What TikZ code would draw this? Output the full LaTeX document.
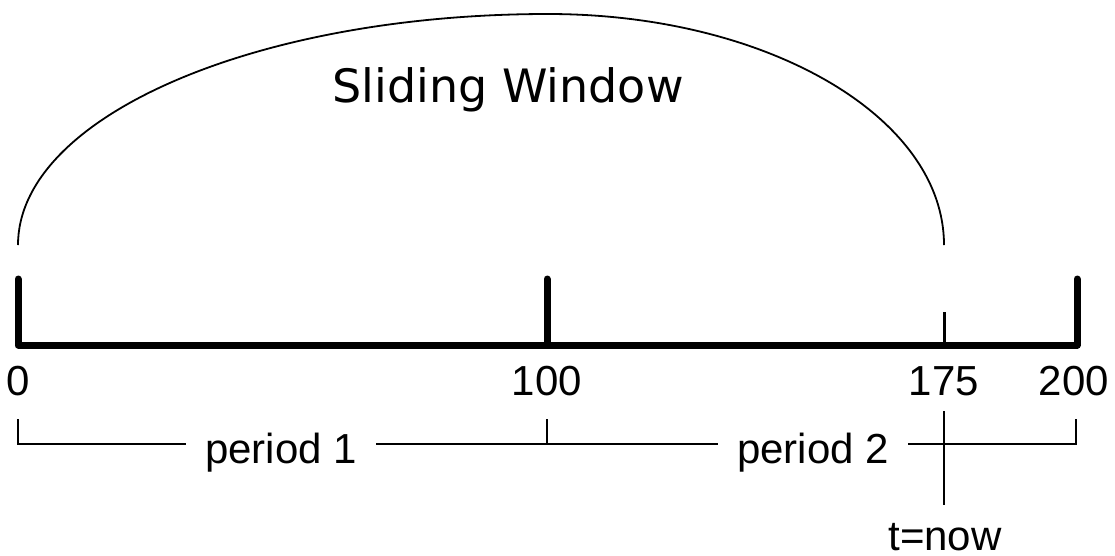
\documentclass[tikz,border=0pt]{standalone}
\usepackage{fontspec}
\setmainfont{Liberation Sans}
\newfontfamily\titlefont{DejaVu Sans}
\begin{document}
\begin{tikzpicture}[x=1pt,y=-1pt,
  axisline/.style={line width=7pt,line cap=round,line join=round},
  thintick/.style={line width=3pt},
  thinline/.style={line width=1.6pt},
  arcline/.style={line width=1.8pt},
  numlabel/.style={font=\fontsize{42}{46}\selectfont,anchor=base,inner sep=0pt},
  perlabel/.style={font=\fontsize{42}{46}\selectfont,anchor=base,inner xsep=19pt,inner ysep=0pt}]
\useasboundingbox (0,0) rectangle (1115,555);
% axis
\coordinate (a0) at (18,345);
\coordinate (a100) at (547,345);
\coordinate (a175) at (944,345);
\coordinate (a200) at (1077,345);
\coordinate (t0) at (18,279);
\coordinate (t100) at (547,279);
\coordinate (t175) at (944,312);
\coordinate (t200) at (1077,279);
\draw[axisline] (t0) -- (a0) -- (a200) -- (t200);
\draw[axisline] (t100) -- (a100);
\draw[thintick] (t175) -- (a175);
% labels
\node[numlabel] (l0) at (18,395) {0};
\node[numlabel] (l100) at (547,395) {100};
\node[numlabel] (l175) at (944,395) {175};
\node[numlabel] (l200) at (1074,395) {200};
% sliding window arc
\coordinate (s0) at (18,245);
\coordinate (s1) at (944,245);
\coordinate (top) at (548,14);
\draw[arcline] (s0) .. controls (18,117) and (255,14) .. (top)
  .. controls (767,14) and (944,117) .. (s1);
\node[font=\titlefont\fontsize{46}{50}\selectfont,anchor=base,inner sep=0pt] (sw) at (508,102) {Sliding Window};
% period brackets
\coordinate (b0) at (18,444);
\coordinate (b100) at (547,444);
\coordinate (b200) at (1076,444);
\coordinate (u0) at (18,419);
\coordinate (u100) at (547,419);
\coordinate (u200) at (1076,419);
\node[perlabel] (p1) at (281,463) {period 1};
\node[perlabel] (p2) at (813,463) {period 2};
\draw[thinline] (u0) -- (b0) -- (p1.west |- b0);
\draw[thinline] (p1.east |- b0) -- (b100) -- (p2.west |- b100);
\draw[thinline] (p2.east |- b100) -- (b200) -- (u200);
\draw[thinline] (b100) -- (u100);
% now marker
\coordinate (n0) at (944,411);
\coordinate (n1) at (944,505);
\draw[thinline] (n0) -- (n1);
\node[numlabel,text depth=0pt] (now) at (945,550) {t=now};
\end{tikzpicture}
\end{document}
